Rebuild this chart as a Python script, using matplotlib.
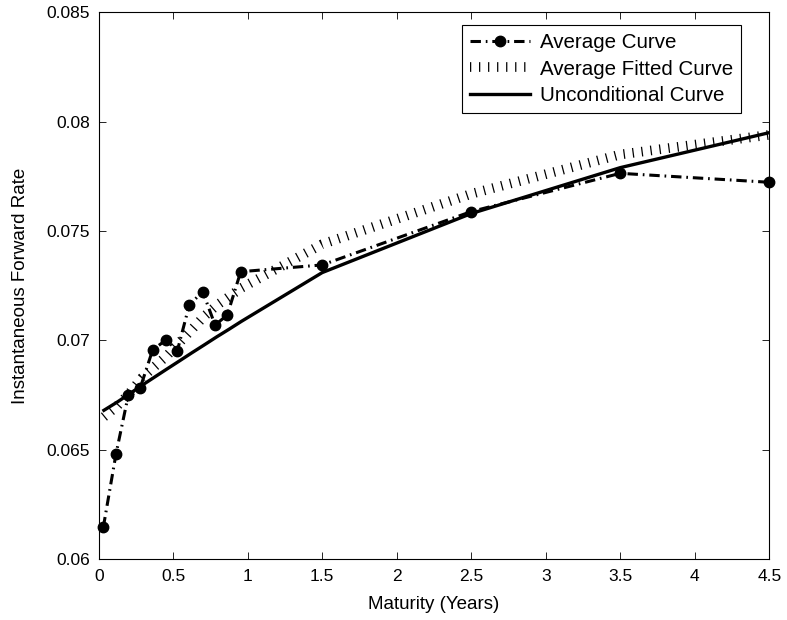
import matplotlib
matplotlib.use("Agg")
import matplotlib.pyplot as plt

plt.rcParams['font.family'] = ['Liberation Sans', 'DejaVu Sans']
plt.rcParams['lines.scale_dashes'] = False

# Maturities (years)
maturity = [0.031, 0.116, 0.199, 0.278, 0.362, 0.452, 0.528, 0.608, 0.698, 0.781,
            0.863, 0.953, 1.5, 2.5, 3.5, 4.5]
# Average curve
average_curve = [0.06145, 0.06480, 0.06750, 0.06781, 0.06956, 0.07002, 0.06953, 0.07162,
                 0.07223, 0.07070, 0.07116, 0.07314, 0.07345, 0.07589, 0.07764, 0.07723]
# Grid for fitted and unconditional curves
curve_maturity = [0.035, 0.125, 0.208, 0.292, 0.375, 0.458, 0.542, 0.625, 0.708, 0.792,
                  0.875, 0.958, 1.5, 2.5, 3.5, 4.5]
# Average fitted curve
fitted_curve = [0.0665, 0.0670, 0.0676, 0.0683, 0.0688, 0.0693, 0.0699, 0.0705,
                0.0711, 0.0716, 0.0720, 0.0724, 0.0744, 0.0767, 0.0785, 0.0794]
# Unconditional curve
uncond_curve = [0.06680, 0.06718, 0.06756, 0.06795, 0.06832, 0.06869, 0.06906, 0.06943,
                0.06979, 0.07016, 0.07051, 0.07087, 0.0731, 0.0758, 0.0779, 0.0795]

xticks = [0, 0.5, 1, 1.5, 2, 2.5, 3, 3.5, 4, 4.5]
xticklabels = ['0', '0.5', '1', '1.5', '2', '2.5', '3', '3.5', '4', '4.5']
yticks = [0.06, 0.065, 0.07, 0.075, 0.08, 0.085]
yticklabels = ['0.06', '0.065', '0.07', '0.075', '0.08', '0.085']

fig = plt.figure(figsize=(7.87, 6.2), dpi=100)
ax = fig.add_axes([0.1254, 0.0984, 0.9775 - 0.1254, 0.98 - 0.0984])

ax.plot(maturity, average_curve, color='black', linewidth=2.2,
        linestyle=(0, (7.5, 3.5, 1.2, 3.5)), marker='o', markersize=7.5,
        dash_capstyle='butt', label='Average Curve', clip_on=False, zorder=3)
ax.plot(curve_maturity, fitted_curve, color='black', linewidth=7.0,
        linestyle=(0, (0.9, 5.6)), dash_capstyle='butt',
        label='Average Fitted Curve', zorder=4)
ax.plot(curve_maturity, uncond_curve, color='black', linewidth=2.4,
        linestyle='-', label='Unconditional Curve', zorder=5)

ax.set_xlim(0, 4.5)
ax.set_ylim(0.06, 0.085)
ax.set_xticks(xticks)
ax.set_xticklabels(xticklabels)
ax.set_yticks(yticks)
ax.set_yticklabels(yticklabels)
ax.tick_params(direction='in', length=5, width=0.6, top=True, right=True,
               labelsize=12.5)
ax.tick_params(axis='x', pad=7.5)
ax.tick_params(axis='y', pad=6)
for s in ax.spines.values():
    s.set_linewidth(0.8)

ax.set_xlabel('Maturity (Years)', fontsize=13.5, labelpad=8)
ax.set_ylabel('Instantaneous Forward Rate', fontsize=13.5, labelpad=13)

leg = ax.legend(loc='upper right', bbox_to_anchor=(0.958, 0.977), borderaxespad=0,
                fancybox=False, framealpha=1, edgecolor='black', fontsize=14.8,
                handlelength=2.9, handletextpad=0.5, labelspacing=0.36,
                borderpad=0.4)
leg.get_frame().set_linewidth(0.8)

fig.savefig('out.png', dpi=100)
